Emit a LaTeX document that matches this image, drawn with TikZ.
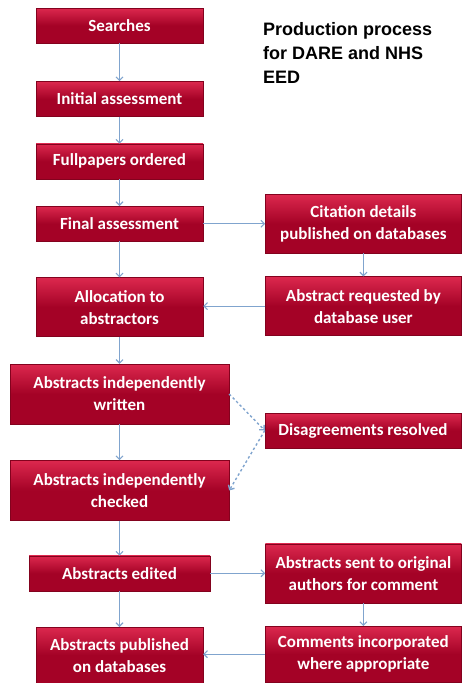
\documentclass[tikz,border=0pt]{standalone}
\usepackage{fontspec}
\setmainfont{Carlito}
\newfontfamily\titlefont{Liberation Sans}
\usetikzlibrary{positioning, arrows.meta}

\definecolor{boxred}{RGB}{164,2,38}
\definecolor{boxlight}{RGB}{220,40,78}
\definecolor{linkblue}{RGB}{128,164,206}

\begin{document}
\begin{tikzpicture}[x=1pt, y=1pt, every node/.style={inner sep=2pt}]
            % styles
            \tikzstyle{stage} = [rectangle, minimum width=167pt, minimum height=35pt, align=center, text=white, font=\bfseries\fontsize{17}{22}\selectfont, top color=boxlight, bottom color=boxred, middle color=boxred, draw=boxred!80!black, line width=0.4pt]
            \tikzstyle{wide} = [stage, minimum width=219pt, minimum height=60pt]
            \tikzstyle{side} = [stage, minimum width=196pt]
            \tikzstyle{link} = [line width=1.1pt, draw=linkblue, -{Straight Barb[length=3.5pt, width=7pt]}]
            \tikzstyle{dotlink} = [link, line width=1.4pt, dash pattern=on 2.5pt off 2.5pt]

            \useasboundingbox (0,0) rectangle (461,-683);

            % main column
            \node (searches) [stage] at (119.5,-25.5) {Searches};
            \node (initial) [stage, below=38pt of searches] {Initial assessment};
            \node (fullpapers) [stage, below=27pt of initial] {Fullpapers ordered};
            \node (final) [stage, below=27pt of fullpapers] {Final assessment};
            \node (allocation) [stage, minimum height=59pt, below=36pt of final] {Allocation to\\abstractors};
            \node (written) [wide, below=27pt of allocation] {Abstracts independently\\written};
            \node (checked) [wide, below=36pt of written] {Abstracts independently\\checked};
            \node (edited) [stage, minimum width=181pt, below=35pt of checked] {Abstracts edited};
            \node (published) [stage, minimum height=56pt, below=36pt of edited] {Abstracts published\\on databases};

            % side column
            \node (citation) [side, minimum height=59pt, right=62pt of final] {Citation details\\published on databases};
            \node (requested) [side, minimum height=59pt, below=23pt of citation] {Abstract requested by\\database user};
            \node (disagree) [side] at (363,-430.5) {Disagreements resolved};
            \node (sent) [side, minimum height=59pt, right=55pt of edited] {Abstracts sent to original\\authors for comment};
            \node (comments) [side, minimum height=56pt, below=23pt of sent] {Comments incorporated\\where appropriate};

            % title
            \node (title) [anchor=north west, align=left, font=\titlefont\bfseries\fontsize{18}{24}\selectfont] at (261,-20) {Production process\\for DARE and NHS\\EED};

            % flow of work
            \draw [link] (searches) -- (initial);
            \draw [link] (initial) -- (fullpapers);
            \draw [link] (fullpapers) -- (final);
            \draw [link] (final) -- (allocation);
            \draw [link] (allocation) -- (written);
            \draw [link] (written) -- (checked);
            \draw [link] (checked) -- (edited);
            \draw [link] (edited) -- (published);
            \draw [link] (final.east) -- (final.east -| citation.west);
            \draw [link] (citation) -- (requested);
            \draw [link] (requested.west) -- (requested.west -| allocation.east);
            \draw [dotlink] (written.east) -- (disagree.west);
            \draw [dotlink] (disagree.west) -- (checked.east);
            \draw [link] (edited.east) -- (edited.east -| sent.west);
            \draw [link] (sent) -- (comments);
            \draw [link] (comments.west) -- (comments.west -| published.east);
        \end{tikzpicture}
\end{document}
